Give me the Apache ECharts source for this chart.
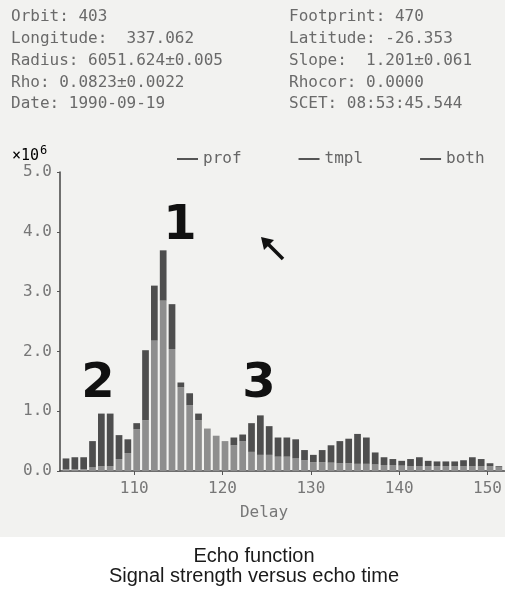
<!DOCTYPE html>
<html>
<head>
<meta charset="utf-8">
<script src="https://cdn.jsdelivr.net/npm/echarts@6/dist/echarts.min.js"></script>
<style>
html,body{margin:0;padding:0;background:#ffffff;}
#chart{width:505px;height:596px;}
</style>
</head>
<body>
<div id="chart"></div>
<script>
// ---- data ----
const delays = [102,103,104,105,106,107,108,109,110,111,112,113,114,115,116,117,118,119,120,121,122,123,124,125,126,127,128,129,130,131,132,133,134,135,136,137,138,139,140,141,142,143,144,145,146,147,148,149,150,151];
const prof   = [0.21,0.23,0.23,0.50,0.96,0.96,0.60,0.53,0.80,2.02,3.10,3.69,2.79,1.48,1.30,0.96,0.71,0.59,0.50,0.56,0.61,0.80,0.93,0.75,0.56,0.56,0.53,0.35,0.27,0.35,0.43,0.50,0.54,0.62,0.56,0.31,0.23,0.20,0.17,0.20,0.23,0.17,0.16,0.16,0.16,0.18,0.23,0.20,0.13,0.08];
const tmpl   = [0.03,0.03,0.03,0.06,0.08,0.08,0.20,0.30,0.70,0.85,2.18,2.85,2.04,1.40,1.10,0.85,0.71,0.59,0.50,0.43,0.50,0.32,0.27,0.27,0.24,0.24,0.21,0.18,0.15,0.15,0.14,0.13,0.13,0.12,0.12,0.11,0.10,0.10,0.09,0.08,0.08,0.08,0.08,0.08,0.08,0.08,0.08,0.08,0.08,0.06];
const xTicks = [110,120,130,140,150];
const legendNames = ['prof','tmpl','both'];
const headerLeft  = ['Orbit: 403','Longitude:  337.062','Radius: 6051.624\u00b10.005','Rho: 0.0823\u00b10.0022','Date: 1990-09-19'];
const headerRight = ['Footprint: 470','Latitude: -26.353','Slope:  1.201\u00b10.061','Rhocor: 0.0000','SCET: 08:53:45.544'];
const captionLines = ['Echo function','Signal strength versus echo time'];
const xName = 'Delay';
const yUnit = '\u00d710';
const yExp = '6';

// ---- derived series segments ----
const bothData = delays.map((d,i)=>[d, 0, Math.min(prof[i], tmpl[i])]);
const profData = delays.map((d,i)=>[d, Math.min(prof[i], tmpl[i]), prof[i]]);
const tmplData = delays.map((d,i)=>[d, Math.min(prof[i], tmpl[i]), tmpl[i]]);

const MONO = '"DejaVu Sans Mono", "Liberation Mono", monospace';
const BAR_OFF = -0.1, BAR_W = 0.76;

function renderBar(params, api){
  const x = api.value(0), lo = api.value(1), hi = api.value(2);
  if (hi <= lo) return null;
  const p0 = api.coord([x + BAR_OFF, lo]);
  const p1 = api.coord([x + BAR_OFF + BAR_W, hi]);
  return {
    type:'rect',
    shape:{x:p0[0], y:p1[1], width:p1[0]-p0[0], height:p0[1]-p1[1]},
    style:{fill: api.visual('color')}
  };
}

const chart = echarts.init(document.getElementById('chart'), null, {renderer:'canvas'});

const graphics = [
  {type:'rect', z:-100, silent:true, shape:{x:0,y:0,width:505,height:537}, style:{fill:'#f2f2f0'}}
];
headerLeft.forEach((t,i)=>graphics.push({type:'text', x:11, y:17+i*21.8, style:{text:t, fill:'#6a6a6a', font:'16px '+MONO, textVerticalAlign:'middle'}}));
headerRight.forEach((t,i)=>graphics.push({type:'text', x:289, y:17+i*21.8, style:{text:t, fill:'#6a6a6a', font:'16px '+MONO, textVerticalAlign:'middle'}}));
graphics.push({type:'text', x:12, y:156, style:{
  text:'{a|'+yUnit+'}{s|'+yExp+'}', textVerticalAlign:'middle',
  rich:{a:{fontFamily:MONO, fontSize:15, color:'#6a6a6a'}, s:{fontFamily:MONO, fontSize:12, color:'#6a6a6a', padding:[0,0,10,1]}}
}});
graphics.push({type:'text', x:264, y:513, style:{text:xName, fill:'#777', font:'16px '+MONO, textAlign:'center', textVerticalAlign:'middle'}});
// handwritten marks on the scan
graphics.push({type:'text', x:180, y:227, style:{text:'1', fill:'#111', font:'bold 48px "DejaVu Sans"', textAlign:'center', textVerticalAlign:'middle'}});
graphics.push({type:'text', x:98, y:385, style:{text:'2', fill:'#111', font:'bold 48px "DejaVu Sans"', textAlign:'center', textVerticalAlign:'middle'}});
graphics.push({type:'text', x:259, y:385, style:{text:'3', fill:'#111', font:'bold 48px "DejaVu Sans"', textAlign:'center', textVerticalAlign:'middle'}});
graphics.push({type:'polyline', shape:{points:[[283,259],[264,240]]}, style:{stroke:'#111', lineWidth:3.5}});
graphics.push({type:'polygon', shape:{points:[[261,237],[274,240],[264,250]]}, style:{fill:'#111'}});
// caption
captionLines.forEach((t,i)=>graphics.push({type:'text', x:254, y:556+i*20, style:{text:t, fill:'#1a1a1a', font:'20px "Liberation Sans", Arial, sans-serif', textAlign:'center', textVerticalAlign:'middle'}}));

chart.setOption({
  backgroundColor:'#ffffff',
  animation:false,
  grid:{left:60, top:172, width:445, height:299, containLabel:false},
  legend:{
    data:legendNames, left:172, top:146, itemGap:57, itemWidth:21, itemHeight:2, icon:'rect',
    itemStyle:{color:'#555'},
    textStyle:{color:'#666', fontFamily:MONO, fontSize:16}
  },
  xAxis:{
    type:'value', min:101.6, max:151.9,
    axisLine:{show:true, lineStyle:{color:'#444', width:1.5}},
    axisTick:{show:true, length:4, customValues:xTicks, lineStyle:{color:'#555'}},
    axisLabel:{customValues:xTicks, margin:10, color:'#777', fontFamily:MONO, fontSize:16, formatter:v=>String(v)},
    splitLine:{show:false}
  },
  yAxis:{
    type:'value', min:0, max:5, interval:1,
    axisLine:{show:true, lineStyle:{color:'#444', width:1.5}},
    axisTick:{show:true, length:3, lineStyle:{color:'#555'}},
    axisLabel:{margin:8, color:'#777', fontFamily:MONO, fontSize:16, formatter:v=>v.toFixed(1)},
    splitLine:{show:false}
  },
  series:[
    {name:'both', type:'custom', clip:true, renderItem:renderBar, encode:{x:0, y:2}, itemStyle:{color:'#8e8e8e'}, data:bothData},
    {name:'prof', type:'custom', clip:true, renderItem:renderBar, encode:{x:0, y:2}, itemStyle:{color:'#4e4e4e'}, data:profData},
    {name:'tmpl', type:'custom', clip:true, renderItem:renderBar, encode:{x:0, y:2}, itemStyle:{color:'#6a6a6a'}, data:tmplData}
  ],
  graphic:{elements:graphics}
});
</script>
</body>
</html>
